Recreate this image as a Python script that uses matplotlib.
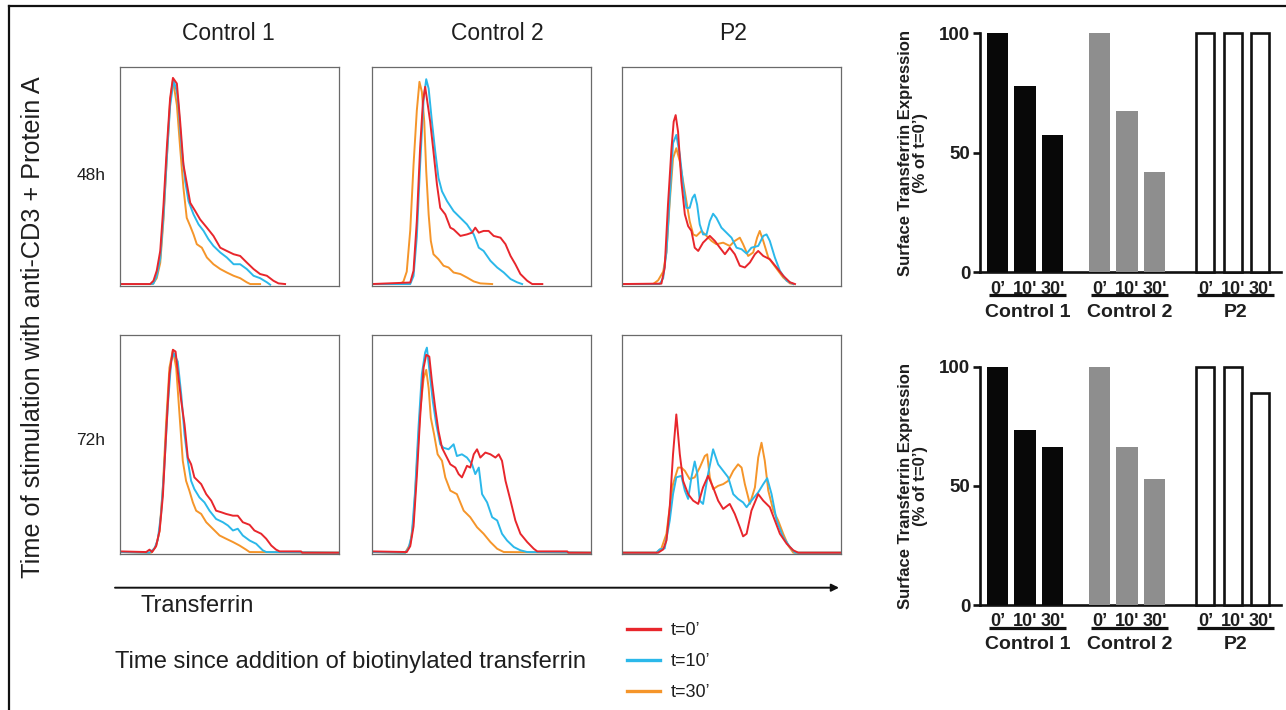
import matplotlib
matplotlib.use('Agg')
import matplotlib.pyplot as plt
from matplotlib.lines import Line2D
from matplotlib.patches import FancyArrowPatch
from matplotlib.transforms import blended_transform_factory

# ---------------- data ----------------
# Histogram panels: x = transferrin intensity (a.u., 0-100), y = % of max count
# Control 1, 48h
c1_48_t0_x = [0, 14.0, 15.5, 17.0, 18.6, 20.1, 21.6, 23.1, 24.4, 26.2, 27.7, 29.2, 30.7, 32.3, 34.6, 36.8, 39.9, 42.9, 46.0, 49.0, 52.1, 55.1, 58.1, 61.2, 64.2, 67.3, 70.3, 72.6, 75.6]
c1_48_t0_y = [0.3, 0.3, 1.8, 6.4, 15.5, 36.8, 62.7, 85.5, 95.0, 92.4, 74.9, 55.1, 46.7, 37.6, 33.8, 30.0, 26.2, 22.4, 17.0, 15.5, 14.0, 13.2, 10.2, 7.2, 4.9, 4.1, 1.8, 0.6, 0.3]
c1_48_t10_x = [0, 14.3, 15.5, 17.0, 18.6, 20.1, 21.6, 23.1, 24.7, 26.2, 26.9, 28.5, 30.0, 31.5, 33.8, 36.1, 38.4, 40.6, 42.9, 46.0, 49.0, 52.1, 55.1, 58.1, 61.2, 64.2, 67.3, 68.8]
c1_48_t10_y = [0.3, 0.3, 0.5, 4, 12, 32, 58, 82, 94, 88.6, 82.5, 61.2, 47.5, 38.4, 32.3, 27.7, 24.7, 20.9, 17.8, 14.8, 12.5, 9.4, 9.4, 7.2, 4.1, 3.0, 1.1, 0]
c1_48_t30_x = [0, 15.2, 17.0, 18.6, 20.1, 21.6, 23.1, 24.4, 26.2, 27.7, 29.2, 30.7, 32.3, 33.8, 35.3, 37.6, 39.9, 42.9, 46.0, 49.0, 52.1, 55.1, 58.1, 59.7, 64.2]
c1_48_t30_y = [0.3, 0.3, 3, 10, 30, 58, 84, 94, 82.5, 62.7, 44.4, 30.7, 26.9, 23.1, 18.6, 17.0, 12.5, 9.4, 7.2, 5.6, 4.1, 3.0, 1.1, 0.3, 0.3]
# Control 2, 48h
c2_48_t0_x = [0, 17.6, 19.1, 20.6, 22.1, 23.4, 24.4, 25.2, 26.7, 28.2, 29.8, 31.3, 33.6, 35.9, 37.4, 40.5, 43.5, 45.8, 47.3, 48.9, 51.1, 53.4, 55.7, 58.8, 61.1, 63.4, 65.6, 67.9, 71.0, 73.3, 77.9]
c2_48_t0_y = [0.3, 1, 6.4, 29.2, 62.7, 84, 90.9, 85.5, 74.9, 61.2, 46.0, 35.3, 32.3, 26.2, 25.4, 22.4, 23.1, 23.9, 26.2, 23.9, 24.7, 24.7, 22.4, 21.6, 18.6, 13.2, 9.4, 4.9, 1.8, 0.3, 0.3]
c2_48_t10_x = [0, 17.6, 19.1, 20.6, 22.1, 23.7, 24.9, 26.0, 27.5, 29.0, 30.5, 32.1, 34.4, 37.4, 40.5, 43.5, 46.6, 48.9, 51.1, 54.2, 57.3, 60.3, 63.4, 66.4, 68.7]
c2_48_t10_y = [0.3, 0.3, 4, 22, 55, 85, 94.4, 90.1, 74.9, 61.2, 49.0, 42.9, 38.4, 33.8, 30.7, 27.7, 23.1, 17.0, 15.5, 11.0, 7.9, 5.6, 2.6, 1.1, 0.3]
c2_48_t30_x = [0, 13.0, 14.5, 16.0, 17.6, 19.1, 20.6, 21.8, 22.9, 24.0, 24.9, 26.0, 27.0, 28.2, 30.5, 32.8, 35.1, 37.4, 40.5, 43.5, 46.6, 49.6, 55.0]
c2_48_t30_y = [0.3, 0.3, 1.5, 6, 25, 55, 80, 93.2, 88.6, 74.9, 52.1, 32.3, 20.1, 14.0, 11.7, 8.7, 7.9, 5.6, 4.9, 3.3, 1.5, 0.6, 0.3]
# P2, 48h
p2_48_t0_x = [0, 18.0, 19.5, 21.0, 22.6, 23.6, 24.5, 25.6, 27.1, 28.7, 30.2, 31.7, 33.2, 34.8, 37.0, 40.1, 42.4, 44.7, 47.0, 49.2, 51.5, 53.8, 56.1, 58.4, 60.7, 62.2, 64.5, 67.5, 70.6, 73.6, 76.7, 79.0]
p2_48_t0_y = [0.3, 0.5, 7.9, 36.8, 62.7, 74.9, 77.9, 70.3, 47.5, 32.3, 26.9, 24.7, 17.0, 15.5, 19.3, 22.4, 20.1, 17.0, 14.0, 17.0, 14.0, 8.7, 7.9, 10.2, 14.0, 15.5, 13.2, 11.7, 7.9, 4.1, 1.1, 0.3]
p2_48_t10_x = [0, 17.2, 18.8, 20.3, 21.8, 23.3, 24.8, 26.4, 27.9, 29.4, 30.9, 32.2, 33.2, 34.3, 35.5, 37.0, 38.6, 40.1, 41.6, 43.1, 45.4, 47.7, 50.0, 52.3, 54.6, 56.9, 59.1, 62.2, 64.5, 66.0, 67.5, 69.8, 72.1, 75.2, 78.2]
p2_48_t10_y = [0.3, 0.3, 3, 15, 40, 65, 68.8, 59.7, 46.0, 35.3, 35.3, 39.9, 41.4, 36.8, 27.7, 23.1, 23.1, 29.2, 32.6, 30.7, 26.2, 23.9, 21.6, 17.0, 16.3, 14.3, 17.0, 17.8, 22.4, 23.1, 20.1, 12.5, 6.4, 1.8, 0.3]
p2_48_t30_x = [0, 14.2, 16.5, 18.8, 20.3, 21.8, 23.3, 24.8, 26.4, 27.9, 29.4, 30.9, 32.5, 34.0, 36.3, 38.6, 40.9, 43.1, 46.2, 49.2, 51.5, 53.8, 55.3, 57.6, 59.9, 61.7, 62.9, 64.5, 66.8, 69.1, 71.3, 73.6, 76.7, 78.2]
p2_48_t30_y = [0.3, 0.3, 2, 6, 15, 38, 58, 62.7, 56.6, 47.5, 38.4, 29.2, 23.1, 22.4, 24.7, 22.4, 20.1, 18.6, 19.3, 17.8, 20.1, 21.6, 18.6, 13.2, 14.8, 21.6, 24.7, 20.1, 12.5, 9.4, 6.4, 3.3, 0.6, 0.3]
# Control 1, 72h
c1_72_t0_x = [0, 12.2, 13.7, 14.9, 16.7, 18.3, 19.8, 21.3, 22.8, 24.4, 25.6, 26.6, 28.2, 29.7, 31.2, 32.7, 34.2, 35.8, 37.3, 39.6, 41.9, 44.1, 46.4, 48.7, 51.8, 54.0, 56.3, 59.4, 61.6, 64.7, 67.0, 69.3, 71.5, 73.1, 82.9, 83.4, 100]
c1_72_t0_y = [0.6, 0.3, 1.4, 0.3, 3, 10, 26, 55, 82, 93.2, 92.4, 83.3, 69.6, 58.9, 43.7, 40.6, 34.6, 33.0, 31.5, 26.9, 23.9, 19.3, 18.6, 17.8, 17.0, 17.0, 14.0, 12.8, 10.2, 8.7, 6.4, 3.3, 1.4, 0.6, 0.6, 0, 0]
c1_72_t10_x = [0, 13.7, 16.0, 17.5, 19.0, 20.5, 22.1, 23.6, 24.8, 26.6, 28.2, 29.7, 31.2, 32.7, 34.2, 36.5, 38.8, 41.1, 44.1, 47.2, 49.5, 51.8, 54.0, 56.3, 59.4, 62.4, 65.4, 67.0, 100]
c1_72_t10_y = [0.3, 0, 2, 6, 18, 40, 68, 88, 91.6, 87.8, 72.6, 54.3, 42.2, 33.0, 29.2, 25.4, 23.1, 19.3, 15.5, 14.0, 12.5, 10.2, 11.0, 7.9, 5.6, 4.1, 1.1, 0.3, 0]
c1_72_t30_x = [0, 14.5, 16.7, 18.3, 19.8, 21.3, 22.8, 24.4, 25.9, 27.4, 28.9, 30.4, 31.9, 33.5, 35.0, 37.3, 39.6, 42.6, 45.7, 48.7, 51.8, 54.8, 57.8, 59.4, 100]
c1_72_t30_y = [0.3, 0, 3, 10, 30, 60, 85, 93.2, 84.8, 63.5, 42.2, 33.0, 28.5, 23.1, 19.3, 17.8, 14.0, 11.0, 7.9, 6.4, 4.9, 3.3, 1.4, 0.3, 0]
# Control 2, 72h
c2_72_t0_x = [0, 16.0, 17.6, 19.1, 20.6, 22.1, 23.7, 24.9, 26.3, 27.5, 29.0, 30.5, 32.1, 33.6, 35.9, 38.2, 39.7, 41.2, 43.5, 45.0, 46.6, 48.1, 49.6, 51.9, 54.2, 56.5, 58.0, 59.5, 61.1, 63.4, 65.6, 67.9, 71.0, 74.0, 75.6, 89.3, 89.8, 100]
c2_72_t0_y = [0.6, 0.3, 3, 12, 35, 62, 85, 90.9, 90.1, 78.7, 66.5, 55.9, 48.2, 45.2, 40.6, 39.1, 36.1, 34.6, 39.9, 39.1, 45.2, 47.5, 43.7, 46.0, 45.2, 43.7, 45.2, 42.2, 33.0, 23.9, 14.8, 8.7, 4.9, 1.8, 0.6, 0.6, 0, 0]
c2_72_t10_x = [0, 15.3, 16.8, 18.3, 19.8, 21.4, 22.9, 24.4, 25.2, 26.4, 27.9, 29.5, 31.3, 32.8, 35.1, 37.4, 38.9, 41.2, 43.5, 45.8, 47.3, 48.9, 50.4, 52.7, 55.0, 57.3, 59.5, 61.8, 64.9, 67.9, 71.0, 100]
c2_72_t10_y = [0.3, 0, 2, 8, 28, 58, 82, 92, 94.2, 83.3, 69.6, 58.9, 49.8, 48.2, 47.5, 49.8, 44.4, 45.2, 43.7, 40.6, 36.1, 39.1, 26.9, 23.1, 16.3, 14.8, 8.7, 5.6, 2.6, 1.1, 0.3, 0]
c2_72_t30_x = [0, 15.3, 17.6, 19.1, 20.6, 22.1, 23.7, 24.9, 26.0, 27.0, 28.5, 30.1, 32.1, 33.6, 35.9, 38.9, 42.0, 45.0, 48.1, 51.1, 54.2, 57.3, 60.3, 100]
c2_72_t30_y = [0.3, 0, 4, 15, 40, 65, 80, 84.0, 75.6, 61.9, 54.3, 45.2, 42.2, 34.6, 28.5, 26.9, 19.3, 16.3, 11.7, 8.7, 4.9, 1.8, 0.3, 0]
# P2, 72h
p2_72_t0_x = [0, 16.5, 18.8, 20.3, 21.8, 23.3, 24.8, 26.4, 27.9, 30.2, 32.5, 34.8, 37.0, 39.3, 41.6, 43.9, 46.2, 49.2, 51.5, 53.8, 55.3, 56.9, 59.1, 62.2, 64.5, 67.5, 69.8, 72.1, 75.2, 78.2, 80.5, 100]
p2_72_t0_y = [0, 0, 1.5, 5.6, 20.9, 45.2, 63.5, 45.2, 33.0, 26.9, 23.9, 22.4, 30.0, 35.3, 30.0, 23.9, 20.1, 22.4, 17.8, 11.7, 7.5, 8.7, 19.3, 26.9, 23.9, 20.9, 14.8, 8.7, 4.1, 1.1, 0, 0]
p2_72_t10_x = [0, 15.7, 17.2, 19.5, 21.8, 23.3, 24.8, 27.1, 28.7, 30.2, 31.7, 33.2, 34.3, 35.5, 37.0, 39.3, 41.6, 43.9, 46.2, 48.5, 50.8, 53.0, 55.3, 56.9, 59.1, 62.2, 64.5, 66.3, 68.3, 70.6, 73.6, 76.7, 79.0, 100]
p2_72_t10_y = [0, 0, 1.5, 2, 14.8, 26.9, 34.6, 35.3, 28.5, 24.7, 34.6, 41.9, 36.8, 23.9, 22.4, 36.1, 47.5, 40.6, 37.6, 34.6, 26.9, 24.7, 23.1, 20.9, 23.9, 27.7, 31.5, 34.2, 26.9, 14.8, 7.2, 2.6, 0, 0]
p2_72_t30_x = [0, 15.7, 18.0, 20.3, 21.8, 23.3, 25.6, 27.1, 28.7, 30.9, 33.2, 35.5, 37.8, 38.9, 40.1, 41.6, 43.9, 46.2, 48.5, 50.8, 53.0, 54.6, 56.1, 58.4, 60.7, 62.2, 63.7, 65.2, 66.8, 69.1, 71.3, 73.6, 75.9, 78.2, 100]
p2_72_t30_y = [0, 0, 2, 8.7, 20.9, 31.5, 39.1, 39.1, 37.6, 33.8, 34.6, 39.1, 44.4, 45.2, 34.6, 29.2, 30.7, 31.5, 33.0, 37.6, 40.6, 39.1, 31.5, 22.4, 30.0, 43.7, 50.5, 42.2, 28.5, 19.3, 14.8, 8.7, 3.3, 0, 0]

# Bar charts: surface transferrin (% of t=0')
bar_groups = ['Control 1', 'Control 2', 'P2']
timepoints = ['0\u2019', "10'", "30'"]
ctrl1_48h = [100, 78, 57.5]
ctrl2_48h = [100, 67.5, 42]
p2_48h = [100, 100, 100]
ctrl1_72h = [100, 73.5, 66.2]
ctrl2_72h = [100, 66.2, 52.7]
p2_72h = [100, 100, 88.8]

col_titles = ['Control 1', 'Control 2', 'P2']
row_titles = ['48h', '72h']
legend_labels = ['t=0\u2019', 't=10\u2019', 't=30\u2019']

# ---------------- style ----------------
plt.rcParams['font.family'] = ['Liberation Sans', 'DejaVu Sans']
RED, BLUE, ORANGE = '#e8262c', '#2bb8ea', '#f5952a'
TXT = '#1e1e1e'
W, H = 1286, 710
fig = plt.figure(figsize=(W / 100, H / 100), dpi=100)


def rect(x0, y0, x1, y1):
    return [x0 / W, 1 - y1 / H, (x1 - x0) / W, (y1 - y0) / H]


hist_data = [
    [(c1_48_t0_x, c1_48_t0_y, c1_48_t10_x, c1_48_t10_y, c1_48_t30_x, c1_48_t30_y),
     (c2_48_t0_x, c2_48_t0_y, c2_48_t10_x, c2_48_t10_y, c2_48_t30_x, c2_48_t30_y),
     (p2_48_t0_x, p2_48_t0_y, p2_48_t10_x, p2_48_t10_y, p2_48_t30_x, p2_48_t30_y)],
    [(c1_72_t0_x, c1_72_t0_y, c1_72_t10_x, c1_72_t10_y, c1_72_t30_x, c1_72_t30_y),
     (c2_72_t0_x, c2_72_t0_y, c2_72_t10_x, c2_72_t10_y, c2_72_t30_x, c2_72_t30_y),
     (p2_72_t0_x, p2_72_t0_y, p2_72_t10_x, p2_72_t10_y, p2_72_t30_x, p2_72_t30_y)],
]
col_px = [(119.5, 338.5), (371.7, 590.7), (622, 841)]
row_px = [(67, 286), (335, 554)]

for r in range(2):
    for c in range(3):
        ax = fig.add_axes(rect(col_px[c][0], row_px[r][0], col_px[c][1], row_px[r][1]))
        x0, y0, x10, y10, x30, y30 = hist_data[r][c]
        ax.plot(x30, y30, color=ORANGE, lw=1.4, solid_joinstyle='round')
        ax.plot(x10, y10, color=BLUE, lw=1.4, solid_joinstyle='round')
        ax.plot(x0, y0, color=RED, lw=1.4, solid_joinstyle='round')
        ax.set_xlim(0, 100)
        ax.set_ylim(-0.6, 100)
        ax.set_xticks([])
        ax.set_yticks([])
        for s in ax.spines.values():
            s.set_color('#6a6a6a')
            s.set_linewidth(0.9)

# column / row titles
for t, xc in zip(col_titles, [228, 497, 733]):
    fig.text(xc / W, 1 - 33 / H, t, ha='center', va='center', fontsize=16.5, color=TXT)
for t, yc in zip(row_titles, [176, 441]):
    fig.text(91 / W, 1 - yc / H, t, ha='center', va='center', fontsize=12.5, color=TXT)
fig.text(33 / W, 1 - 327 / H, 'Time of stimulation with anti-CD3 + Protein A', rotation=90,
         ha='center', va='center', fontsize=18.2, color=TXT)

# arrow + axis captions
fig.add_artist(FancyArrowPatch((115 / W, 1 - 587.7 / H), (839 / W, 1 - 587.7 / H),
                               transform=fig.transFigure, arrowstyle='-|>', mutation_scale=11,
                               lw=1.4, color='#111111', shrinkA=0, shrinkB=0))
fig.text(197 / W, 1 - 606 / H, 'Transferrin', ha='center', va='center', fontsize=17, color=TXT)
fig.text(115 / W, 1 - 662 / H, 'Time since addition of biotinylated transferrin',
         ha='left', va='center', fontsize=17.1, color=TXT)

# legend
handles = [Line2D([], [], color=col, lw=2.4) for col in (RED, BLUE, ORANGE)]
fig.legend(handles, legend_labels, loc='upper left', bbox_to_anchor=(627 / W, 1 - 622 / H),
           frameon=False, fontsize=13, handlelength=1.85, handletextpad=0.55,
           labelspacing=0.78, borderpad=0, borderaxespad=0, labelcolor=TXT)

# figure border (left + top)
fig.add_artist(Line2D([9 / W, 9 / W], [0, 1 - 6 / H], transform=fig.transFigure, color='#111', lw=1.6))
fig.add_artist(Line2D([9 / W, 1], [1 - 6 / H, 1 - 6 / H], transform=fig.transFigure, color='#111', lw=1.6))

# ---------------- bar charts ----------------
group_offsets = [0.0, 3.7, 7.55]
bar_styles = [dict(color='#080808', width=0.78, edgecolor='#080808', linewidth=0),
              dict(color='#8e8e8e', width=0.78, edgecolor='#8e8e8e', linewidth=0),
              dict(color='white', width=0.66, edgecolor='#111111', linewidth=1.9)]
bar_sets = [(ctrl1_48h, ctrl2_48h, p2_48h), (ctrl1_72h, ctrl2_72h, p2_72h)]
bar_rows = [(33.3, 272.3), (366.7, 605)]

for (ytop, ybot), vals in zip(bar_rows, bar_sets):
    ax = fig.add_axes(rect(980, ytop, 1281, ybot))
    all_pos = []
    for g, (off, v, st) in enumerate(zip(group_offsets, vals, bar_styles)):
        pos = [off + i for i in range(len(timepoints))]
        all_pos += pos
        ax.bar(pos, v, clip_on=False, zorder=3, **st)
        bt = blended_transform_factory(ax.transData, ax.transAxes)
        ax.plot([pos[0] - 0.32, pos[-1] + 0.5], [-0.095, -0.095], transform=bt, clip_on=False,
                color='#111111', lw=2.3, solid_capstyle='butt')
        ax.text(pos[1] + 0.1, -0.167, bar_groups[g], transform=bt, ha='center', va='center',
                fontsize=14, fontweight='bold', color=TXT)
    ax.set_xlim(-0.64, 10.3)
    ax.set_ylim(0, 100)
    ax.spines['top'].set_visible(False)
    ax.spines['right'].set_visible(False)
    for s in ('left', 'bottom'):
        ax.spines[s].set_linewidth(1.9)
        ax.spines[s].set_color('#111111')
    ax.set_yticks([0, 50, 100])
    ax.set_yticklabels(['0', '50', '100'], fontsize=13.5, fontweight='bold', color=TXT)
    ax.tick_params(axis='y', length=5, width=1.9, pad=2, color='#111111')
    ax.set_xticks(all_pos)
    ax.set_xticklabels(timepoints * 3, fontsize=13, fontweight='bold', color=TXT)
    ax.tick_params(axis='x', length=0, pad=6)
    ax.text(-0.222, 0.5, 'Surface Transferrin Expression\n(% of t=0\u2019)', transform=ax.transAxes,
            rotation=90, ha='center', va='center', multialignment='center', fontsize=12,
            fontweight='bold', color=TXT, linespacing=1.0)

fig.savefig('out.png', dpi=100)
